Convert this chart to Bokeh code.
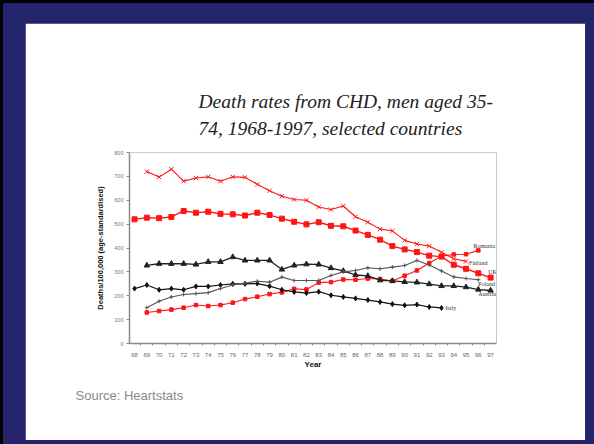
from bokeh.plotting import figure
from bokeh.layouts import column
from bokeh.models import FixedTicker, ColumnDataSource, Title
from bokeh.core.properties import value
from bokeh.embed import file_html
from bokeh.resources import INLINE

# Coronary heart disease death rates, men 35-74 (per 100,000, age-standardised)
years = list(range(68, 98))

finland_years = list(range(69, 96))
finland = [720, 697, 730, 680, 693, 698, 680, 698, 696, 667, 640, 617, 603, 600,
           572, 561, 576, 531, 508, 479, 472, 432, 417, 408, 382, 355, 344]

uk_years = list(range(68, 98))
uk = [520, 527, 525, 530, 555, 548, 552, 543, 541, 536, 548, 538, 523, 510, 499,
      508, 493, 491, 473, 455, 435, 408, 394, 383, 368, 364, 330, 313, 294, 276]

romania_years = list(range(69, 97))
romania = [130, 136, 142, 150, 161, 157, 161, 171, 186, 196, 207, 214, 229, 226,
           255, 257, 268, 267, 272, 270, 262, 284, 306, 337, 366, 373, 374, 390]

austria_years = list(range(69, 98))
austria = [327, 334, 334, 334, 331, 342, 342, 362, 348, 348, 348, 310, 327, 332,
           331, 316, 304, 287, 283, 265, 262, 258, 256, 249, 241, 241, 236, 226, 222]

italy_years = list(range(68, 94))
italy = [230, 245, 225, 230, 225, 239, 239, 245, 250, 250, 251, 240, 225, 216,
         211, 217, 202, 195, 189, 182, 174, 165, 160, 163, 153, 149]

poland_years = list(range(69, 97))
poland = [150, 177, 195, 205, 209, 213, 230, 245, 253, 261, 257, 278, 264, 264,
          264, 285, 300, 306, 317, 313, 320, 327, 348, 329, 304, 279, 272, 267]

y_ticks = [0, 100, 200, 300, 400, 500, 600, 700, 800]

NAVY = "#24246c"
RED = "#ff1414"

p = figure(width=560, height=417, output_backend="svg", toolbar_location=None,
           x_range=(67.59, 97.48), y_range=(0, 800),
           min_border_left=104, min_border_right=89,
           min_border_top=129, min_border_bottom=97)
p.border_fill_color = "white"
p.background_fill_color = "white"
p.outline_line_color = None
p.xgrid.visible = False
p.ygrid.visible = False

# heading above the chart
p.title.text = "Death rates from CHD, men aged 35-\n74, 1968-1997, selected countries"
p.title.text_font = "Liberation Serif"
p.title.text_font_style = "italic"
p.title.text_font_size = "19.5px"
p.title.text_color = "#222222"
p.title.text_line_height = 1.25
p.title.align = "left"
p.title.offset = 69
p.title.standoff = 28

# axes
AXIS = "#8a8a8a"
p.xaxis.ticker = FixedTicker(ticks=years, minor_ticks=[y + 0.5 for y in years[:-1]])
p.xaxis.axis_line_color = AXIS
p.xaxis.axis_line_width = 1.5
p.xaxis.major_tick_line_color = None
p.xaxis.minor_tick_line_color = AXIS
p.xaxis.minor_tick_out = 2
p.xaxis.minor_tick_in = 0
p.xaxis.major_label_text_font = "Liberation Sans"
p.xaxis.major_label_text_font_size = "6px"
p.xaxis.major_label_text_color = "#666666"
p.xaxis.major_label_standoff = 3
p.xaxis.axis_label = "Year"
p.xaxis.axis_label_text_font = "Liberation Sans"
p.xaxis.axis_label_text_font_style = "bold"
p.xaxis.axis_label_text_font_size = "8px"
p.xaxis.axis_label_text_color = "#111111"
p.xaxis.axis_label_standoff = 0

p.yaxis.ticker = FixedTicker(ticks=y_ticks, minor_ticks=[])
p.yaxis.axis_line_color = AXIS
p.yaxis.axis_line_width = 1.5
p.yaxis.major_tick_line_color = AXIS
p.yaxis.major_tick_out = 3
p.yaxis.major_tick_in = 0
p.yaxis.minor_tick_line_color = None
p.yaxis.major_label_text_font = "Liberation Sans"
p.yaxis.major_label_text_font_size = "5.5px"
p.yaxis.major_label_text_color = "#777777"
p.yaxis.major_label_standoff = 3
p.yaxis.axis_label = "Deaths/100,000 (age-standardised)"
p.yaxis.axis_label_text_font = "Liberation Sans"
p.yaxis.axis_label_text_font_style = "bold"
p.yaxis.axis_label_text_font_size = "7.5px"
p.yaxis.axis_label_text_color = "#111111"
p.yaxis.axis_label_standoff = 6

# source note under the chart
p.add_layout(Title(text="Source: Heartstats", align="left", offset=-54,
                   text_font="Liberation Sans", text_font_style="normal",
                   text_font_size="13px", text_color="#8a8a8a", standoff=29),
             "below")

series = [
    # name, years, values, colour, line width, marker, marker size, label offset
    ("Finland", finland_years, finland, RED, 1.1, "x", 6, (0.25, -5)),
    ("UK", uk_years, uk, RED, 1.4, "square", 5, (-0.2, 22)),
    ("Romania", romania_years, romania, RED, 1.1, "square", 3.5, (-0.4, 20)),
    ("Austria", austria_years, austria, "#222222", 1.3, "triangle", 5.5, (-1.0, -16)),
    ("Italy", italy_years, italy, "#111111", 1.2, "diamond", 5, (0.3, -2)),
    ("Poland", poland_years, poland, "#555555", 1.1, "cross", 4, (0.0, -16)),
]

for name, xs, ys, color, lw, marker, size, (dx, dy) in series:
    src = ColumnDataSource(dict(year=xs, rate=ys))
    p.line("year", "rate", source=src, line_color=color, line_width=lw)
    p.scatter("year", "rate", source=src, marker=marker, size=size,
              line_color=color, fill_color=color, line_width=1)
    p.text(x=[xs[-1] + dx], y=[ys[-1] + dy], text=[name],
           text_font=value("Liberation Serif"), text_font_size="6px",
           text_color="#333333", text_baseline="middle", text_align="left")

# navy slide frame with a dark edge at the left and top
page = column(p, styles={
    "background-color": NAVY,
    "border-left": "3px solid black",
    "border-top": "3px solid black",
    "padding": "20px 9px 4px 22px",
})

open("out.html", "w").write(file_html(page, INLINE))
